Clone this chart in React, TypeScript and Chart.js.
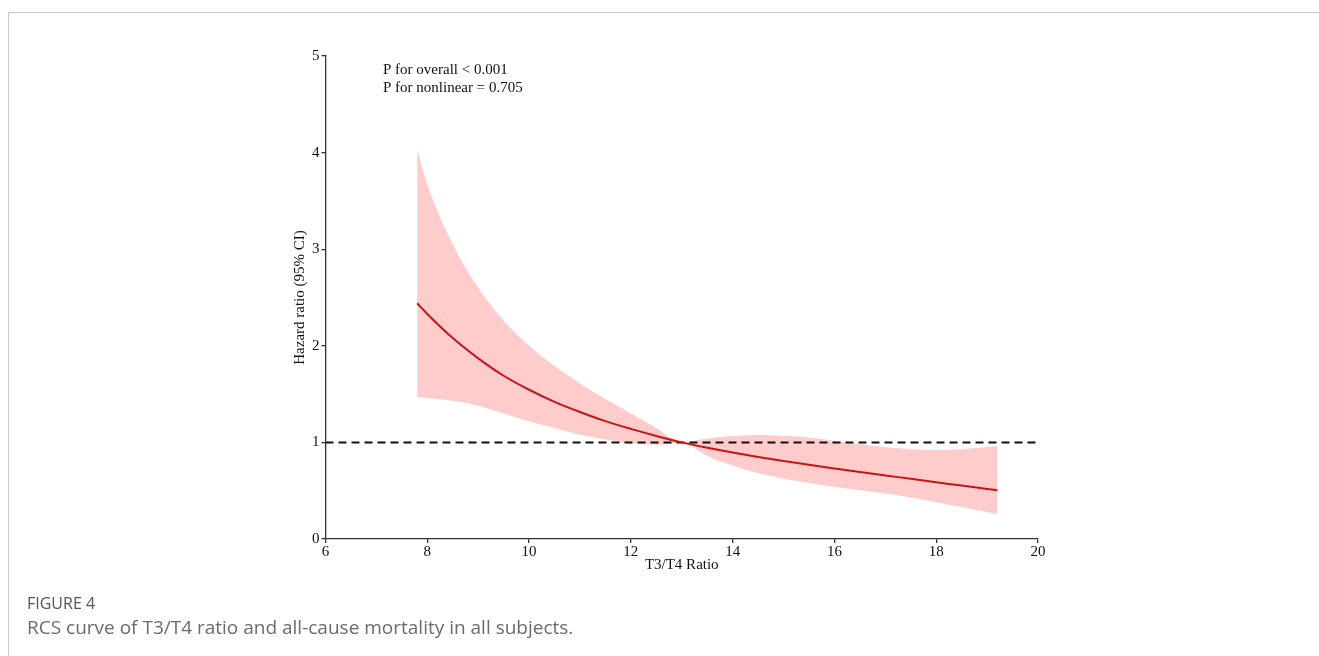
import React, { useEffect, useRef } from "react";
import { Chart, registerables } from "chart.js";

Chart.register(...registerables);

// T3/T4 ratio (x) sample positions
const ratioX = [7.8, 8.0, 8.5, 9.0, 9.5, 10.0, 10.5, 11.0, 11.5, 12.0, 12.5, 13.0, 13.5, 14.0, 14.5, 15.0, 15.5, 16.0, 16.5, 17.0, 17.5, 18.0, 18.5, 19.0, 19.2];
// Hazard ratio estimate
const hazardRatio = [2.44, 2.33, 2.08, 1.87, 1.69, 1.545, 1.42, 1.315, 1.22, 1.14, 1.067, 1.00, 0.945, 0.895, 0.85, 0.808, 0.768, 0.73, 0.693, 0.658, 0.623, 0.588, 0.553, 0.518, 0.504];
// 95% CI upper bound
const ciUpper = [4.03, 3.67, 3.05, 2.6, 2.26, 2.0, 1.79, 1.61, 1.45, 1.30, 1.15, 1.00, 1.04, 1.066, 1.077, 1.07, 1.05, 1.015, 0.98, 0.95, 0.93, 0.922, 0.93, 0.952, 0.963];
// 95% CI lower bound
const ciLower = [1.47, 1.46, 1.43, 1.38, 1.30, 1.22, 1.15, 1.08, 1.03, 0.99, 0.975, 1.00, 0.86, 0.76, 0.68, 0.625, 0.58, 0.54, 0.505, 0.47, 0.43, 0.38, 0.33, 0.28, 0.26];
// Reference line HR = 1
const referenceX = [6, 20];
const referenceY = [1, 1];

const xTickValues = [6, 8, 10, 12, 14, 16, 18, 20];
const yTickValues = [0, 1, 2, 3, 4, 5];

const xTitle = "T3/T4 Ratio";
const yTitle = "Hazard ratio (95% CI)";
const pValueLines = ["P for overall < 0.001", "P for nonlinear = 0.705"];
const figureLabel = "FIGURE 4";
const figureCaption = "RCS curve of T3/T4 ratio and all-cause mortality in all subjects.";

const SERIF = "'Liberation Serif', 'Times New Roman', serif";

function toPoints(xs: number[], ys: number[]) {
  return xs.map((x, i) => ({ x, y: ys[i] }));
}

const annotationPlugin = {
  id: "pValueText",
  afterDatasetsDraw(chart: any) {
    const { ctx, scales } = chart;
    const x = scales.x.getPixelForValue(7.13);
    const y0 = scales.y.getPixelForValue(4.855);
    const y1 = scales.y.getPixelForValue(4.67);
    ctx.save();
    ctx.fillStyle = "#111";
    ctx.font = `15px ${SERIF}`;
    ctx.textAlign = "left";
    ctx.textBaseline = "middle";
    ctx.fillText(pValueLines[0], x, y0);
    ctx.fillText(pValueLines[1], x, y1);
    ctx.restore();
  },
};

export default function App() {
  const canvasRef = useRef<HTMLCanvasElement | null>(null);

  useEffect(() => {
    if (!canvasRef.current) return;
    const chart = new Chart(canvasRef.current, {
      type: "line",
      data: {
        datasets: [
          {
            label: "HR",
            data: toPoints(ratioX, hazardRatio),
            borderColor: "#c81414",
            borderWidth: 2,
            pointRadius: 0,
            fill: false,
            cubicInterpolationMode: "monotone",
            order: 0,
          },
          {
            label: "Reference",
            data: toPoints(referenceX, referenceY),
            borderColor: "#111",
            borderWidth: 2,
            borderDash: [8, 5],
            pointRadius: 0,
            fill: false,
            order: 1,
          },
          {
            label: "Upper",
            data: toPoints(ratioX, ciUpper),
            borderWidth: 0,
            borderColor: "rgba(0,0,0,0)",
            backgroundColor: "#ffcccc",
            pointRadius: 0,
            fill: "+1",
            cubicInterpolationMode: "monotone",
            order: 2,
          },
          {
            label: "Lower",
            data: toPoints(ratioX, ciLower),
            borderWidth: 0,
            borderColor: "rgba(0,0,0,0)",
            pointRadius: 0,
            fill: false,
            cubicInterpolationMode: "monotone",
            order: 3,
          },
        ],
      },
      options: {
        responsive: false,
        animation: false,
        events: [],
        layout: { padding: { left: 291, top: 56, right: 281, bottom: 82 } },
        plugins: {
          legend: { display: false },
          tooltip: { enabled: false },
        },
        scales: {
          x: {
            type: "linear",
            min: 6,
            max: 20,
            afterFit: (scale: any) => {
              scale.height = 35;
            },
            afterBuildTicks: (scale: any) => {
              scale.ticks = xTickValues.map((v) => ({ value: v }));
            },
            grid: { display: true, drawOnChartArea: false, drawTicks: true, tickLength: 4, color: "#333", lineWidth: 1.3 },
            border: { display: true, color: "#333", width: 1.3 },
            ticks: { color: "#111", padding: 0, font: { family: SERIF, size: 15 }, maxRotation: 0, autoSkip: false },
            title: { display: true, text: xTitle, color: "#111", padding: 0, font: { family: SERIF, size: 15 } },
          },
          y: {
            type: "linear",
            min: 0,
            max: 5,
            afterFit: (scale: any) => {
              scale.width = 34.5;
            },
            afterBuildTicks: (scale: any) => {
              scale.ticks = yTickValues.map((v) => ({ value: v }));
            },
            grid: { display: true, drawOnChartArea: false, drawTicks: true, tickLength: 4, color: "#333", lineWidth: 1.3 },
            border: { display: true, color: "#333", width: 1.3 },
            ticks: { color: "#111", padding: 2, font: { family: SERIF, size: 15 } },
            title: { display: true, text: yTitle, color: "#111", padding: 0, font: { family: SERIF, size: 15 } },
          },
        },
      },
      plugins: [annotationPlugin],
    } as any);
    return () => chart.destroy();
  }, []);

  return (
    <div style={{ position: "fixed", left: 0, top: 0, width: 1319, height: 656, overflow: "hidden", background: "#fff" }}>
      <div
        style={{
          position: "absolute",
          left: 8,
          top: 12,
          width: 1400,
          height: 700,
          borderTop: "1px solid #c8c8c8",
          borderLeft: "1px solid #c8c8c8",
        }}
      />
      <canvas
        ref={canvasRef}
        width={1319}
        height={656}
        style={{ position: "absolute", left: 0, top: 0, width: 1319, height: 656 }}
      />
      <div
        style={{
          position: "absolute",
          left: 27,
          top: 593,
          fontFamily: "'Open Sans', sans-serif",
          fontSize: 16,
          lineHeight: "20px",
          color: "#555",
        }}
      >
        {figureLabel}
      </div>
      <div
        style={{
          position: "absolute",
          left: 27,
          top: 615,
          fontFamily: "'Open Sans', sans-serif",
          fontSize: 19,
          lineHeight: "24px",
          color: "#6b6b6b",
        }}
      >
        {figureCaption}
      </div>
    </div>
  );
}
